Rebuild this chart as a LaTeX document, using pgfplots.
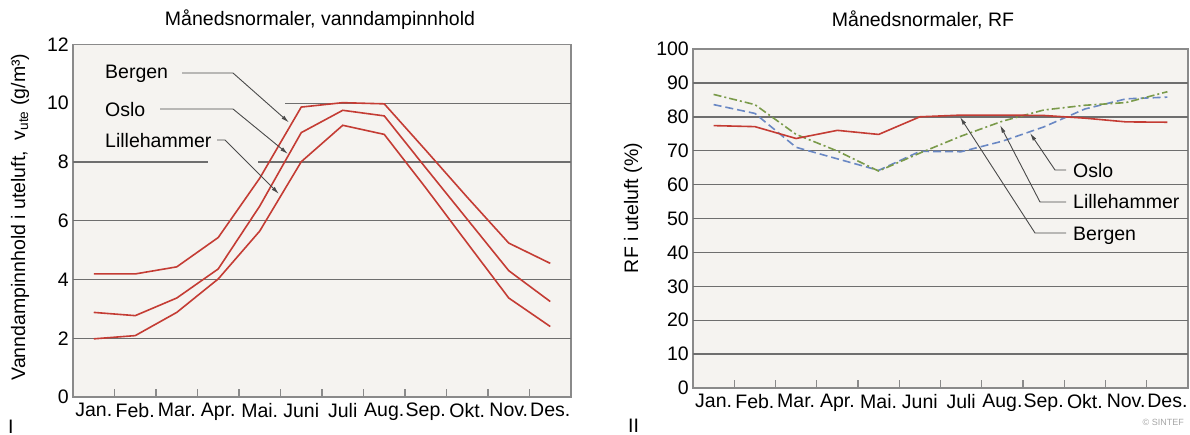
\documentclass[border=0pt]{standalone}
\usepackage{fontspec}
\setmainfont{Liberation Sans}
\usepackage{pgfplots}
\pgfplotsset{compat=1.18}
\usetikzlibrary{arrows.meta}
\definecolor{bgc}{HTML}{F5F3F0}
\definecolor{gridc}{HTML}{6E6E6E}
\definecolor{framec}{HTML}{8A8A8A}
\definecolor{redc}{HTML}{C43C34}
\definecolor{bluec}{HTML}{6A88C4}
\definecolor{greenc}{HTML}{7A9A4A}
\definecolor{leadc}{HTML}{4A4A4A}
\newcommand\fs{\fontsize{19.5bp}{22bp}\selectfont}

\pgfplotstableread{
x    bergen oslo  lille
0.5  4.19   2.88  1.98
1.5  4.19   2.77  2.09
2.5  4.43   3.37  2.88
3.5  5.43   4.36  4.02
4.5  7.45   6.50  5.65
5.5  9.87   9.00  8.01
6.5  10.02  9.76  9.25
7.5  9.98   9.57  8.94
8.5  8.40   7.80  7.12
9.5  6.80   6.05  5.24
10.5 5.24   4.30  3.37
11.5 4.55   3.25  2.40
}\vanndamp

\pgfplotstableread{
x    bergen oslo  lille
0.5  77.4   83.6  86.6
1.5  77.1   81.0  83.6
2.5  73.6   71.0  74.8
3.5  76.0   67.6  69.9
4.5  74.8   64.2  64.0
5.5  80.0   69.8  69.3
6.5  80.5   69.7  74.3
7.5  80.5   72.8  78.7
8.5  80.4   77.0  82.0
9.5  79.6   82.3  83.4
10.5 78.5   85.3  84.2
11.5 78.4   85.8  87.4
}\rf

\tikzset{
  mygrid/.style={draw=gridc, line width=1.4bp},
  lead/.style={draw=leadc, line width=0.9bp},
  arr/.style={lead, -{Latex[length=8bp,width=4bp]}},
}

\pgfplotsset{
  common/.style={
    scale only axis,
    anchor=south west,
    xmin=0, xmax=12,
    axis background/.style={fill=bgc},
    axis line style={draw=framec, line width=1.3bp},
    xtick={0.5,1.5,2.5,3.5,4.5,5.5,6.5,7.5,8.5,9.5,10.5,11.5},
    xticklabels={Jan.,Feb.,Mar.,Apr.,Mai.,Juni,Juli,Aug.,Sep.,Okt.,Nov.,Des.},
    minor xtick={1,2,3,4,5,6,7,8,9,10,11},
    major tick length=0pt,
    minor tick length=8bp,
    tick style={draw=framec, line width=1.3bp},
    tick pos=left,
    tick align=inside,
    /pgf/number format/assume math mode=true,
    tick label style={font=\fs, inner sep=0pt},
    xticklabel style={anchor=north, yshift=-6bp},
    yticklabel style={anchor=east, xshift=-4bp},
  },
}

\begin{document}
\begin{tikzpicture}
\useasboundingbox (0bp,0bp) rectangle (1190bp,-435bp);

% ---------- left chart ----------
\begin{axis}[common,
  at={(73bp,-397bp)}, width=498bp, height=352.5bp,
  ymin=0, ymax=12, ytick={0,2,4,6,8,10,12}]
  \draw[mygrid] (axis cs:0,2) -- (axis cs:12,2);
  \draw[mygrid] (axis cs:0,4) -- (axis cs:12,4);
  \draw[mygrid] (axis cs:0,6) -- (axis cs:12,6);
  \draw[mygrid] (axis cs:0,8) -- (axis cs:3.25,8);
  \draw[mygrid] (axis cs:4.46,8) -- (axis cs:12,8);
  \draw[mygrid] (axis cs:5.11,10) -- (axis cs:12,10);
  \addplot[redc, line width=1.6bp] table[x=x, y=bergen] {\vanndamp};
  \addplot[redc, line width=1.6bp] table[x=x, y=oslo] {\vanndamp};
  \addplot[redc, line width=1.6bp] table[x=x, y=lille] {\vanndamp};
\end{axis}

% ---------- right chart ----------
\begin{axis}[common,
  at={(693bp,-388bp)}, width=495bp, height=339bp,
  ymin=0, ymax=100, ytick={0,10,20,30,40,50,60,70,80,90,100}]
  \draw[mygrid] (axis cs:0,10) -- (axis cs:12,10);
  \draw[mygrid] (axis cs:0,20) -- (axis cs:12,20);
  \draw[mygrid] (axis cs:0,30) -- (axis cs:12,30);
  \draw[mygrid] (axis cs:0,40) -- (axis cs:12,40);
  \draw[mygrid] (axis cs:0,50) -- (axis cs:12,50);
  \draw[mygrid] (axis cs:0,60) -- (axis cs:12,60);
  \draw[mygrid] (axis cs:0,70) -- (axis cs:12,70);
  \draw[mygrid] (axis cs:0,80) -- (axis cs:12,80);
  \draw[mygrid] (axis cs:0,90) -- (axis cs:12,90);
  \addplot[bluec, line width=1.6bp, dash pattern=on 8bp off 4bp] table[x=x, y=oslo] {\rf};
  \addplot[greenc, line width=1.6bp, dash pattern=on 8bp off 3bp on 2bp off 3bp] table[x=x, y=lille] {\rf};
  \addplot[redc, line width=1.6bp] table[x=x, y=bergen] {\rf};
\end{axis}

% ---------- titles and axis labels ----------
\node[font=\fs] at (320bp,-20bp) {Månedsnormaler, vanndampinnhold};
\node[font=\fs] at (923bp,-20bp) {Månedsnormaler, RF};
\node[font=\fs, rotate=90] at (20bp,-217bp) {Vanndampinnhold i uteluft,\ \ v\textsubscript{ute} (g/m³)};
\node[font=\fs, rotate=90] at (633bp,-208bp) {RF i uteluft (\%)};

% ---------- left annotations ----------
\node[font=\fs, anchor=base west, inner sep=0pt] at (105bp,-78bp) {Bergen};
\node[font=\fs, anchor=base west, inner sep=0pt] at (105bp,-116bp) {Oslo};
\node[font=\fs, anchor=base west, inner sep=0pt] at (105bp,-147bp) {Lillehammer};
\draw[arr] (182bp,-73bp) -- (233bp,-73bp) -- (289bp,-122.5bp);
\draw[arr] (160bp,-109bp) -- (233bp,-109bp) -- (288bp,-154bp);
\draw[arr] (217bp,-140bp) -- (225bp,-140bp) -- (279bp,-194bp);

% ---------- right annotations ----------
\node[font=\fs, anchor=base west, inner sep=0pt] at (1073bp,-177bp) {Oslo};
\node[font=\fs, anchor=base west, inner sep=0pt] at (1073bp,-208bp) {Lillehammer};
\node[font=\fs, anchor=base west, inner sep=0pt] at (1073bp,-240bp) {Bergen};
\draw[arr] (1066bp,-170bp) -- (1055bp,-170bp) -- (1030bp,-133bp);
\draw[arr] (1066bp,-202bp) -- (1040bp,-202bp) -- (1000bp,-125bp);
\draw[arr] (1066bp,-233bp) -- (1035bp,-233bp) -- (960bp,-117bp);

% ---------- panel marks ----------
\node[font=\fs, anchor=base west, inner sep=0pt] at (8bp,-433bp) {I};
\node[font=\fs, anchor=base west, inner sep=0pt] at (628bp,-432bp) {II};
\node[font=\fontsize{9bp}{10bp}\selectfont, text=gray!70, anchor=east, inner sep=0pt] at (1184bp,-422bp) {© SINTEF};
\end{tikzpicture}
\end{document}
